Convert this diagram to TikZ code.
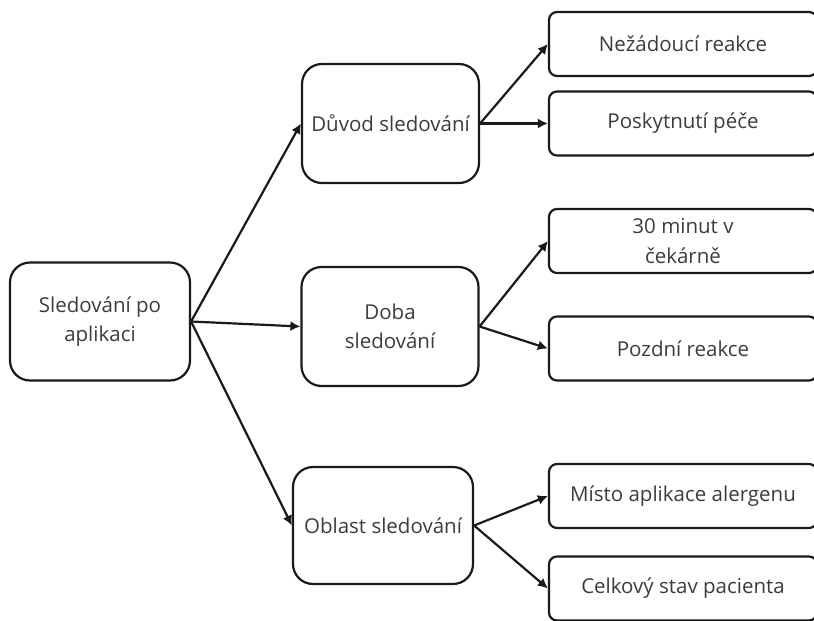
\documentclass[tikz,border=0pt]{standalone}
\usepackage{fontspec}
\setmainfont{Open Sans}
\usetikzlibrary{arrows.meta}
\definecolor{boxLine}{HTML}{1A1A1A}
\definecolor{boxText}{HTML}{3C3C3C}
\tikzset{ >={Latex[length=5pt,width=5pt]} }
\tikzset{
	baseBox/.style={draw=boxLine, line width=1.1pt, text=boxText, align=center, inner sep=1pt,
		font=\fontsize{10.25}{14.75}\selectfont},
	rootBox/.style={baseBox, rounded corners=10pt, minimum width=90pt,   minimum height=59pt},
	midBox/.style ={baseBox, rounded corners=10pt, minimum width=88.5pt, minimum height=59.5pt},
	leafBox/.style={baseBox, rounded corners=4pt,  minimum width=134pt,  minimum height=32pt},
	link/.style   ={->, line width=1.1pt, boxLine}
}

\begin{document}
\begin{tikzpicture}[x=0.5pt, y=-0.5pt]
	% Page size of the reference (pixels)
	\useasboundingbox (0,0) rectangle (814,621);
	\clip (0,0) rectangle (814,621);
	% Root of the tree
	\node[rootBox] (root) at (100,321.5) {Sledování po\\aplikaci};
	% Second level
	\node[midBox] (duvod)  at (390.5,123.5) {Důvod sledování};
	\node[midBox] (doba)   at (390,326.5)   {Doba\\sledování};
	\node[midBox, minimum width=90pt, minimum height=58.5pt] (oblast) at (383,525.5) {Oblast sledování};
	% Leaves (cut by the right edge)
	\node[leafBox] (nezadouci) at (683,44)    {Nežádoucí reakce};        % under Důvod
	\node[leafBox] (pece)      at (683,123.5) {Poskytnutí péče};         % under Důvod
	\node[leafBox] (cekarna)   at (683,241)   {30 minut v\\čekárně};     % under Doba
	\node[leafBox] (pozdni)    at (683,348.5) {Pozdní reakce};           % under Doba
	\node[leafBox] (misto)     at (683,496)   {Místo aplikace alergenu}; % under Oblast
	\node[leafBox] (stav)      at (683,588.5) {Celkový stav pacienta};   % under Oblast
	% Connectors
	\draw[link] (root.east) -- (duvod.west);
	\draw[link] (root.east) -- (doba.west);
	\draw[link] (root.east) -- (oblast.west);
	\draw[link] (duvod.east)  -- (nezadouci.west);
	\draw[link] (duvod.east)  -- (pece.west);
	\draw[link] (doba.east)   -- (cekarna.west);
	\draw[link] (doba.east)   -- (pozdni.west);
	\draw[link] (oblast.east) -- (misto.west);
	\draw[link] (oblast.east) -- (stav.west);
\end{tikzpicture}
\end{document}
